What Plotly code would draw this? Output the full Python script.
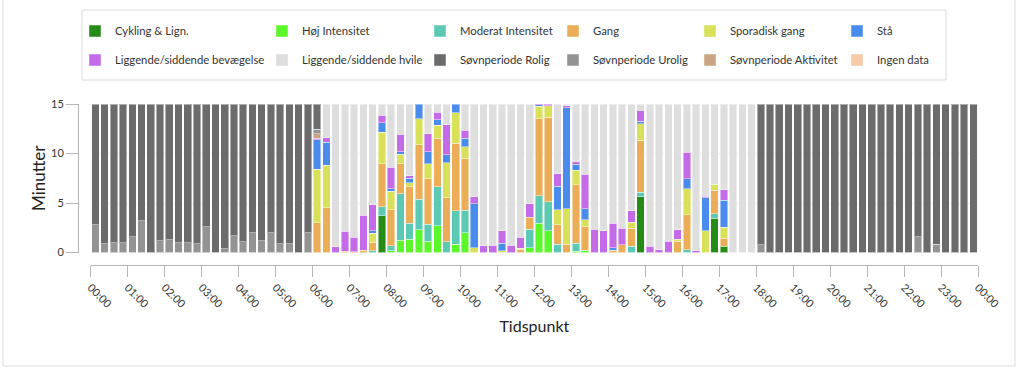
import plotly.graph_objects as go
import pandas as pd

# ---------------- data (minutes per 15-minute slot, 96 slots) ----------------
slot_start = pd.date_range("2024-01-01 00:00", periods=96, freq="15min")

cykling = [
    0, 0, 0, 0, 0, 0, 0, 0, 0, 0, 0, 0,
    0, 0, 0, 0, 0, 0, 0, 0, 0, 0, 0, 0,
    0, 0, 0, 0, 0, 0, 0, 3.7, 0, 0, 0, 0,
    0, 0, 0, 0, 0, 0, 0, 0, 0, 0, 0, 0,
    0, 0, 0, 0, 0, 0, 0, 0, 0, 0, 0, 5.65,
    0, 0, 0, 0, 0, 0, 0, 3.45, 0.65, 0, 0, 0,
    0, 0, 0, 0, 0, 0, 0, 0, 0, 0, 0, 0,
    0, 0, 0, 0, 0, 0, 0, 0, 0, 0, 0, 0,
]
hoej = [
    0, 0, 0, 0, 0, 0, 0, 0, 0, 0, 0, 0,
    0, 0, 0, 0, 0, 0, 0, 0, 0, 0, 0, 0,
    0, 0, 0, 0, 0, 0, 0, 0, 0.2, 1.25, 1.35, 2.3,
    1.15, 2.7, 0, 0.85, 2.0, 0, 0, 0, 0, 0, 0, 0.5,
    2.95, 2.2, 0, 0, 0.15, 0.25, 0, 0, 0, 0, 0, 0,
    0, 0, 0, 0, 0, 0, 0, 0, 0, 0, 0, 0,
    0, 0, 0, 0, 0, 0, 0, 0, 0, 0, 0, 0,
    0, 0, 0, 0, 0, 0, 0, 0, 0, 0, 0, 0,
]
moderat = [
    0, 0, 0, 0, 0, 0, 0, 0, 0, 0, 0, 0,
    0, 0, 0, 0, 0, 0, 0, 0, 0, 0, 0, 0,
    0, 0, 0, 0, 0, 0, 0.2, 0.9, 0.5, 4.7, 1.6, 3.1,
    1.7, 3.95, 1.1, 3.35, 2.25, 0, 0, 0, 0, 0, 0, 1.85,
    2.8, 2.95, 0.85, 0, 0.8, 0, 0, 0, 0, 0, 0.65, 0.45,
    0, 0, 0, 0, 0.3, 0, 0, 0.45, 0, 0, 0, 0,
    0, 0, 0, 0, 0, 0, 0, 0, 0, 0, 0, 0,
    0, 0, 0, 0, 0, 0, 0, 0, 0, 0, 0, 0,
]
gang = [
    0, 0, 0, 0, 0, 0, 0, 0, 0, 0, 0, 0,
    0, 0, 0, 0, 0, 0, 0, 0, 0, 0, 0, 0,
    3.0, 4.5, 0, 0.15, 0.1, 0.25, 0.85, 4.35, 3.6, 3.0, 3.7, 5.5,
    4.6, 4.9, 4.45, 6.85, 5.25, 0, 0, 0, 0, 0, 0.35, 1.2,
    7.75, 8.5, 1.95, 0.85, 5.9, 2.35, 0, 0, 0.25, 0.8, 1.8, 5.25,
    0, 0, 0, 1.15, 3.5, 0, 0, 2.4, 0.8, 0, 0, 0,
    0, 0, 0, 0, 0, 0, 0, 0, 0, 0, 0, 0,
    0, 0, 0, 0, 0, 0, 0, 0, 0, 0, 0, 0,
]
sporadisk = [
    0, 0, 0, 0, 0, 0, 0, 0, 0, 0, 0, 0,
    0, 0, 0, 0, 0, 0, 0, 0, 0, 0, 0, 0,
    5.4, 4.3, 0, 0, 0, 0, 0.9, 3.2, 1.9, 1.0, 0.4, 2.6,
    1.5, 1.3, 3.5, 3.05, 1.2, 0.5, 0, 0, 0.2, 0, 0.1, 0,
    1.25, 1.15, 1.5, 3.55, 1.45, 0.7, 0, 0, 0, 0, 0.6, 1.65,
    0, 0, 0, 0.2, 2.65, 0, 2.2, 0.6, 1.1, 0, 0, 0,
    0, 0, 0, 0, 0, 0, 0, 0, 0, 0, 0, 0,
    0, 0, 0, 0, 0, 0, 0, 0, 0, 0, 0, 0,
]
staa = [
    0, 0, 0, 0, 0, 0, 0, 0, 0, 0, 0, 0,
    0, 0, 0, 0, 0, 0, 0, 0, 0, 0, 0, 0,
    3.0, 2.35, 0, 0, 0, 0, 0.25, 0.95, 0.25, 0.25, 0.45, 1.5,
    1.25, 0.55, 0.8, 0.9, 0.85, 4.4, 0, 0, 0.75, 0, 0, 0,
    0.2, 0, 2.4, 10.2, 0.6, 1.1, 0, 0, 0.25, 0, 0, 0.25,
    0, 0, 0, 0, 1.0, 0, 3.35, 0, 2.75, 0, 0, 0,
    0, 0, 0, 0, 0, 0, 0, 0, 0, 0, 0, 0,
    0, 0, 0, 0, 0, 0, 0, 0, 0, 0, 0, 0,
]
lig_bevaegelse = [
    0, 0, 0, 0, 0, 0, 0, 0, 0, 0, 0, 0,
    0, 0, 0, 0, 0, 0, 0, 0, 0, 0, 0, 0,
    0.15, 0.45, 0.6, 2.0, 1.45, 3.5, 2.6, 0.75, 2.15, 1.75, 0.25, 0,
    1.8, 0.75, 3.05, 0, 0.8, 0.75, 0.7, 0.75, 1.25, 0.75, 1.1, 1.35,
    0.05, 0.2, 1.25, 0.2, 0.25, 3.5, 2.35, 2.2, 2.45, 1.65, 1.15, 1.1,
    0.65, 0.3, 1.15, 0.95, 2.7, 0.2, 0.15, 0, 1.05, 0, 0, 0,
    0, 0, 0, 0, 0, 0, 0, 0, 0, 0, 0, 0,
    0, 0, 0, 0, 0, 0, 0, 0, 0, 0, 0, 0,
]
lig_hvile = [
    0, 0, 0, 0, 0, 0, 0, 0, 0, 0, 0, 0,
    0, 0, 0, 0, 0, 0, 0, 0, 0, 0, 0, 0,
    0, 3.4, 14.4, 12.85, 13.45, 11.25, 10.2, 1.15, 6.4, 3.05, 7.25, 0,
    3.0, 0.85, 2.1, 0, 2.65, 9.35, 14.3, 14.25, 12.8, 14.25, 13.45, 10.1,
    0, 0, 7.05, 0.2, 5.85, 7.1, 12.65, 12.8, 12.05, 12.55, 10.8, 0.65,
    14.35, 14.7, 13.85, 12.7, 4.85, 14.8, 9.3, 8.1, 8.65, 15, 15, 15,
    0, 0, 0, 0, 0, 0, 0, 0, 0, 0, 0, 0,
    0, 0, 0, 0, 0, 0, 0, 0, 0, 0, 0, 0,
]
soevn_rolig = [
    12.2, 14.1, 14.0, 14.0, 13.4, 11.8, 15, 13.8, 13.7, 14.0, 14.0, 14.1,
    12.4, 15, 14.6, 13.3, 13.9, 13.0, 13.8, 13.0, 14.1, 14.1, 15, 13.0,
    2.55, 0, 0, 0, 0, 0, 0, 0, 0, 0, 0, 0,
    0, 0, 0, 0, 0, 0, 0, 0, 0, 0, 0, 0,
    0, 0, 0, 0, 0, 0, 0, 0, 0, 0, 0, 0,
    0, 0, 0, 0, 0, 0, 0, 0, 0, 0, 0, 0,
    14.2, 15, 15, 15, 15, 15, 15, 15, 15, 15, 15, 15,
    15, 15, 15, 15, 15, 13.4, 15, 14.15, 15, 15, 15, 15,
]
soevn_urolig = [
    2.8, 0.9, 1.0, 1.0, 1.6, 3.2, 0, 1.2, 1.3, 1.0, 1.0, 0.9,
    2.6, 0, 0.4, 1.7, 1.1, 2.0, 1.2, 2.0, 0.9, 0.9, 0, 2.0,
    0.45, 0, 0, 0, 0, 0, 0, 0, 0, 0, 0, 0,
    0, 0, 0, 0, 0, 0, 0, 0, 0, 0, 0, 0,
    0, 0, 0, 0, 0, 0, 0, 0, 0, 0, 0, 0,
    0, 0, 0, 0, 0, 0, 0, 0, 0, 0, 0, 0,
    0.8, 0, 0, 0, 0, 0, 0, 0, 0, 0, 0, 0,
    0, 0, 0, 0, 0, 1.6, 0, 0.85, 0, 0, 0, 0,
]
soevn_aktivitet = [
    0, 0, 0, 0, 0, 0, 0, 0, 0, 0, 0, 0,
    0, 0, 0, 0, 0, 0, 0, 0, 0, 0, 0, 0,
    0.45, 0, 0, 0, 0, 0, 0, 0, 0, 0, 0, 0,
    0, 0, 0, 0, 0, 0, 0, 0, 0, 0, 0, 0,
    0, 0, 0, 0, 0, 0, 0, 0, 0, 0, 0, 0,
    0, 0, 0, 0, 0, 0, 0, 0, 0, 0, 0, 0,
    0, 0, 0, 0, 0, 0, 0, 0, 0, 0, 0, 0,
    0, 0, 0, 0, 0, 0, 0, 0, 0, 0, 0, 0,
]
ingen_data = [0] * 96

y_ticks = [0, 5, 10, 15]

# ---------------- series definitions (stack order, bottom to top) ----------------
# (name, values, colour, legend column)
series = [
    ("Cykling & Lign.", cykling, "#268c16", 1),
    ("Høj Intensitet", hoej, "#5cf72a", 2),
    ("Moderat Intensitet", moderat, "#5cc9b4", 3),
    ("Gang", gang, "#ebad57", 4),
    ("Sporadisk gang", sporadisk, "#d9e158", 5),
    ("Stå", staa, "#4a8ced", 6),
    ("Liggende/siddende bevægelse", lig_bevaegelse, "#c46be8", 1),
    ("Søvnperiode Aktivitet", soevn_aktivitet, "#c9a584", 5),
    ("Søvnperiode Urolig", soevn_urolig, "#939393", 4),
    ("Søvnperiode Rolig", soevn_rolig, "#6b6b6b", 3),
    ("Liggende/siddende hvile", lig_hvile, "#dedede", 2),
    ("Ingen data", ingen_data, "#f7cba8", 6),
]

FONT = "Lato, 'Open Sans', sans-serif"
W, H = 1022, 371
ML, MR, MT, MB = 78, 44, 104, 106
PW, PH = W - ML - MR, H - MT - MB


def px_x(px):
    return (px - ML) / PW


def px_y(py):
    return (H - MB - py) / PH


fig = go.Figure()
for name, vals, col, lcol in series:
    fig.add_trace(go.Bar(
        name=name,
        x=slot_start,
        y=[v if v else None for v in vals],
        xperiod=15 * 60 * 1000,
        xperiodalignment="middle",
        marker=dict(color=col, line=dict(color="rgba(255,255,255,0.45)", width=1)),
        legend="legend" if lcol == 1 else f"legend{lcol}",
        legendgroup=name,
        hovertemplate="%{x|%H:%M}<br>" + name + ": %{y} min<extra></extra>",
    ))

# legend columns (text start x in pixels)
col_text_x = [115, 302, 460, 593, 730, 877]
legend_top = 16.5
legend_layout = {}
for i, tx in enumerate(col_text_x):
    key = "legend" if i == 0 else f"legend{i + 1}"
    legend_layout[key] = dict(
        x=px_x(tx - 40), y=px_y(legend_top), xanchor="left", yanchor="top",
        orientation="v", tracegroupgap=10, bgcolor="rgba(0,0,0,0)",
        font=dict(family=FONT, size=11.3, color="#333"),
        itemclick=False, itemdoubleclick=False,
    )

fig.update_layout(
    width=W, height=H,
    margin=dict(l=ML, r=MR, t=MT, b=MB, pad=0),
    paper_bgcolor="white", plot_bgcolor="white",
    barmode="stack", bargap=0.18,
    font=dict(family=FONT, size=12, color="#333"),
    showlegend=True,
    **legend_layout,
    xaxis=dict(
        type="date",
        domain=[px_x(90.7), 1.0],
        anchor="free", position=0,
        range=["2024-01-01 00:00", "2024-01-02 00:00"],
        tick0="2024-01-01 00:00", dtick=3600000, tickformat="%H:%M",
        tickangle=45,
        showline=True, linecolor="#b5b5b5", linewidth=1,
        ticks="outside", ticklen=11, tickcolor="#b5b5b5", tickwidth=1,
        showgrid=False, zeroline=False,
        tickfont=dict(family=FONT, size=11, color="#333"),
        title=dict(text="Tidspunkt", standoff=11,
                   font=dict(family=FONT, size=16, color="#222")),
    ),
    yaxis=dict(
        domain=[px_y(252.5), 1.0],
        anchor="free", position=0,
        range=[0, 15], tickvals=y_ticks,
        showline=True, linecolor="#b5b5b5", linewidth=1,
        ticks="outside", ticklen=12, tickcolor="#b5b5b5", tickwidth=1,
        showgrid=True, gridcolor="#ebebeb", gridwidth=1, zeroline=False,
        tickfont=dict(family=FONT, size=11, color="#333"),
        title=dict(text="Minutter", standoff=0,
                   font=dict(family=FONT, size=17, color="#222")),
    ),
    shapes=[
        # card frame
        dict(type="rect", xref="paper", yref="paper", layer="below",
             x0=px_x(3), x1=px_x(1015), y0=px_y(366), y1=px_y(-10),
             line=dict(color="#dddddd", width=1), fillcolor="rgba(0,0,0,0)"),
        # legend frame
        dict(type="rect", xref="paper", yref="paper", layer="below",
             x0=px_x(82), x1=px_x(946), y0=px_y(80), y1=px_y(10),
             line=dict(color="#dddddd", width=1), fillcolor="rgba(0,0,0,0)"),
    ],
)

fig.write_html(
    "out.html",
    config={"displayModeBar": False},
    post_script="document.body.style.margin='0';",
)
